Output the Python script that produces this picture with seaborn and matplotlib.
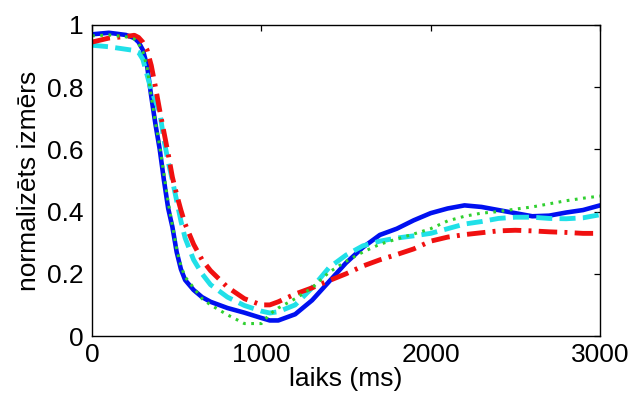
import numpy as np
import pandas as pd
import matplotlib
matplotlib.use("Agg")
import matplotlib.pyplot as plt
import seaborn as sns

time_ms = [0, 100, 200, 250, 275, 300, 325, 350, 375, 400, 425, 450, 475, 500, 525, 550,
           600, 650, 700, 800, 900, 1000, 1050, 1100, 1200, 1300, 1400, 1500, 1600, 1700,
           1800, 1900, 2000, 2100, 2200, 2300, 2400, 2500, 2600, 2700, 2800, 2900, 3000]

blue_solid = [0.97, 0.975, 0.968, 0.958, 0.945, 0.92, 0.87, 0.77, 0.68, 0.60, 0.50, 0.41, 0.35, 0.27, 0.215, 0.18,
              0.148, 0.125, 0.11, 0.09, 0.075, 0.058, 0.05, 0.05, 0.07, 0.115, 0.175, 0.235, 0.285, 0.325,
              0.345, 0.372, 0.395, 0.41, 0.42, 0.415, 0.405, 0.395, 0.385, 0.387, 0.397, 0.405, 0.42]

cyan_dashed = [0.935, 0.93, 0.922, 0.918, 0.912, 0.89, 0.84, 0.79, 0.755, 0.72, 0.63, 0.56, 0.50, 0.435, 0.37, 0.315,
               0.245, 0.20, 0.165, 0.125, 0.098, 0.08, 0.074, 0.078, 0.10, 0.155, 0.22, 0.26, 0.29, 0.305,
               0.315, 0.322, 0.33, 0.345, 0.36, 0.368, 0.378, 0.382, 0.382, 0.378, 0.377, 0.38, 0.39]

red_dashdot = [0.945, 0.958, 0.963, 0.967, 0.96, 0.945, 0.92, 0.87, 0.80, 0.725, 0.655, 0.585, 0.51, 0.455, 0.405, 0.36,
               0.295, 0.245, 0.21, 0.157, 0.12, 0.10, 0.10, 0.11, 0.135, 0.155, 0.178, 0.20, 0.225, 0.245,
               0.262, 0.28, 0.305, 0.318, 0.326, 0.332, 0.338, 0.34, 0.338, 0.335, 0.333, 0.33, 0.33]

green_dotted = [0.965, 0.968, 0.962, 0.955, 0.94, 0.915, 0.865, 0.77, 0.685, 0.61, 0.52, 0.43, 0.355, 0.28, 0.225, 0.19,
                0.155, 0.12, 0.10, 0.068, 0.04, 0.04, 0.07, 0.09, 0.12, 0.155, 0.205, 0.24, 0.27, 0.295,
                0.312, 0.328, 0.345, 0.37, 0.385, 0.395, 0.40, 0.408, 0.415, 0.425, 0.435, 0.443, 0.45]

series_names = ["blue", "cyan", "red", "green"]
series_values = [blue_solid, cyan_dashed, red_dashdot, green_dotted]

x_ticks = [0, 1000, 2000, 3000]
y_ticks = [0, 0.2, 0.4, 0.6, 0.8, 1]
y_tick_labels = ["0", "0.2", "0.4", "0.6", "0.8", "1"]
x_label = "laiks (ms)"
y_label = "normalizēts izmērs"

frames = []
for name, vals in zip(series_names, series_values):
    frames.append(pd.DataFrame({"t": time_ms, "v": vals, "s": name}))
df = pd.concat(frames, ignore_index=True)

sns.set_style("white")
plt.rcParams["font.family"] = ["Liberation Sans", "DejaVu Sans"]
plt.rcParams["text.color"] = "black"
plt.rcParams["axes.labelcolor"] = "black"

fig = plt.figure(figsize=(6.35, 4.01), dpi=100)
ax = fig.add_axes([92 / 635, 1 - 336 / 401, (600 - 92) / 635, (336 - 25) / 401])

palette = {"blue": "#0010F0", "cyan": "#20E0E8", "red": "#F01010", "green": "#30D030"}
widths = {"blue": 3.3, "cyan": 3.5, "red": 3.5, "green": 2.2}
dashes = {"blue": "", "cyan": (3.3, 1.5), "red": (3.8, 1.5, 0.6, 1.5), "green": (0.9, 1.8)}

for name in ["blue", "cyan", "red", "green"]:
    sub = df[df["s"] == name]
    sns.lineplot(data=sub, x="t", y="v", ax=ax, color=palette[name],
                 linewidth=widths[name], legend=False, sort=True)
    line = ax.lines[-1]
    if dashes[name]:
        line.set_dashes(dashes[name])

ax.set_xlim(0, 3000)
ax.set_ylim(0, 1)
ax.set_xticks(x_ticks)
ax.set_yticks(y_ticks)
ax.set_xticklabels([str(v) for v in x_ticks])
ax.set_yticklabels(y_tick_labels)
ax.tick_params(direction="in", top=True, right=True, length=4, width=0.9,
               labelsize=19, colors="black", pad=5)
ax.tick_params(axis="y", pad=6)
for sp in ax.spines.values():
    sp.set_visible(True)
    sp.set_color("black")
    sp.set_linewidth(1.0)
ax.set_xlabel(x_label, fontsize=19, labelpad=0, color="black")
ax.set_ylabel(y_label, fontsize=19, labelpad=4, color="black")
ax.set_facecolor("white")
fig.patch.set_facecolor("white")

fig.savefig("out.png", dpi=100)
